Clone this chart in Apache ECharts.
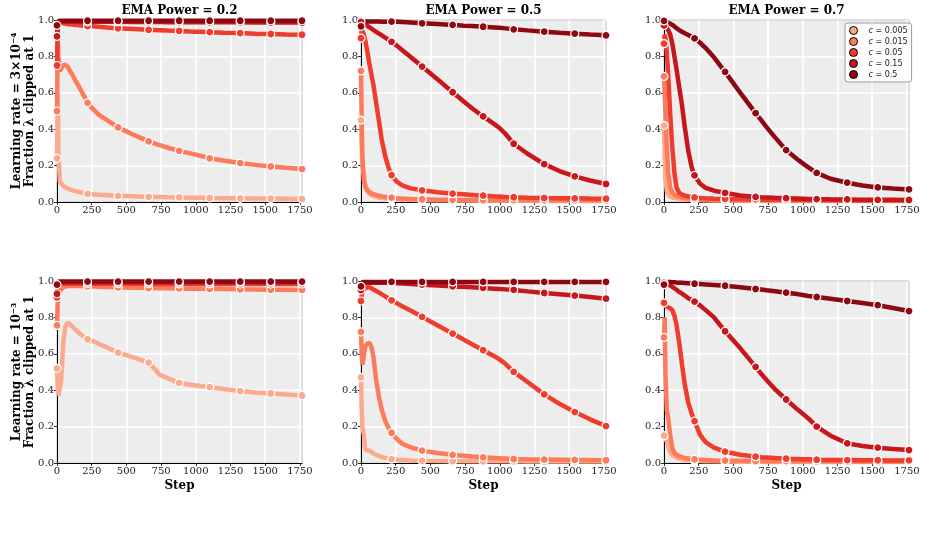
<!DOCTYPE html>
<html>
<head>
<meta charset="utf-8">
<script src="https://cdn.jsdelivr.net/npm/echarts@6/dist/echarts.min.js"></script>
<style>
  html, body { margin: 0; padding: 0; background: #fff; }
  #chart { width: 937px; height: 556px; }
</style>
</head>
<body>
<div id="chart"></div>
<script>
// x positions shared by every curve (training step)
const steps = [0, 5, 10, 20, 30, 45, 60, 75, 90, 110, 130, 150, 175, 200, 220, 260, 300, 360, 440, 550,
  660, 700, 740, 800, 880, 960, 1000, 1040, 1100, 1200, 1320, 1430, 1540, 1650, 1765]
// steps where a marker is drawn
const markSteps = [0, 220, 440, 660, 880, 1100, 1320, 1540, 1765]

const cLabels = ['0.005', '0.015', '0.05', '0.15', '0.5']
const cColors = ['#fcaa8e', '#fb7b5b', '#ef3c2d', '#c8171c', '#8d0912']
const emaTitles = ['EMA Power = 0.2', 'EMA Power = 0.5', 'EMA Power = 0.7']
const lrLabels = ['Learning rate = 3×10⁻⁴', 'Learning rate = 10⁻³']
const yLabel2 = 'Fraction λ clipped at 1'
const xTicks = [0, 250, 500, 750, 1000, 1250, 1500, 1750]

// learning rate 3e-4, EMA power 0.2
const lo02_c0005 = [0.24, 0.6, 0.3, 0.11, 0.1, 0.09, 0.08, 0.075, 0.07, 0.065, 0.06, 0.056, 0.052, 0.048, 0.045, 0.042, 0.04, 0.037, 0.034, 0.031, 0.028, 0.027, 0.027, 0.026, 0.025, 0.024, 0.023, 0.023, 0.022, 0.021, 0.02, 0.019, 0.019, 0.018, 0.017]
const lo02_c0015 = [0.5, 0.88, 0.8, 0.72, 0.73, 0.75, 0.755, 0.745, 0.725, 0.7, 0.67, 0.645, 0.61, 0.575, 0.545, 0.51, 0.48, 0.45, 0.41, 0.37, 0.333, 0.322, 0.312, 0.298, 0.281, 0.267, 0.26, 0.253, 0.24, 0.228, 0.214, 0.204, 0.195, 0.188, 0.181]
const lo02_c005 = [0.75, 0.95, 0.975, 0.98, 0.982, 0.982, 0.98, 0.978, 0.976, 0.975, 0.973, 0.972, 0.97, 0.968, 0.967, 0.965, 0.963, 0.959, 0.954, 0.95, 0.946, 0.945, 0.944, 0.942, 0.94, 0.937, 0.936, 0.935, 0.933, 0.93, 0.928, 0.925, 0.923, 0.921, 0.919]
const lo02_c015 = [0.91, 0.97, 0.985, 0.99, 0.99, 0.99, 0.99, 0.99, 0.99, 0.99, 0.99, 0.99, 0.99, 0.99, 0.99, 0.99, 0.99, 0.99, 0.99, 0.989, 0.989, 0.989, 0.989, 0.988, 0.988, 0.988, 0.988, 0.988, 0.987, 0.987, 0.987, 0.986, 0.986, 0.986, 0.986]
const lo02_c05 = [0.97, 0.99, 0.995, 0.996, 0.996, 0.996, 0.996, 0.996, 0.996, 0.996, 0.996, 0.996, 0.996, 0.996, 0.996, 0.996, 0.996, 0.996, 0.996, 0.996, 0.996, 0.996, 0.996, 0.996, 0.996, 0.996, 0.996, 0.996, 0.996, 0.996, 0.996, 0.996, 0.996, 0.996, 0.996]

// learning rate 3e-4, EMA power 0.5
const lo05_c0005 = [0.45, 0.3, 0.2, 0.16, 0.1, 0.06, 0.045, 0.038, 0.033, 0.028, 0.025, 0.022, 0.02, 0.018, 0.017, 0.015, 0.013, 0.012, 0.01, 0.009, 0.009, 0.008, 0.008, 0.008, 0.008, 0.007, 0.007, 0.007, 0.007, 0.007, 0.006, 0.006, 0.006, 0.006, 0.006]
const lo05_c0015 = [0.72, 0.45, 0.25, 0.12, 0.085, 0.065, 0.055, 0.048, 0.043, 0.038, 0.034, 0.031, 0.028, 0.025, 0.024, 0.021, 0.019, 0.017, 0.015, 0.013, 0.012, 0.012, 0.011, 0.011, 0.011, 0.01, 0.01, 0.01, 0.01, 0.01, 0.009, 0.009, 0.009, 0.009, 0.009]
const lo05_c005 = [0.9, 0.95, 0.94, 0.92, 0.89, 0.83, 0.76, 0.7, 0.64, 0.54, 0.44, 0.34, 0.25, 0.185, 0.148, 0.11, 0.09, 0.075, 0.064, 0.054, 0.046, 0.044, 0.042, 0.039, 0.035, 0.031, 0.03, 0.028, 0.026, 0.024, 0.022, 0.021, 0.02, 0.019, 0.018]
const lo05_c015 = [0.99, 0.988, 0.985, 0.98, 0.975, 0.968, 0.96, 0.953, 0.945, 0.935, 0.925, 0.915, 0.903, 0.891, 0.88, 0.858, 0.832, 0.795, 0.744, 0.675, 0.603, 0.578, 0.552, 0.515, 0.47, 0.428, 0.405, 0.375, 0.32, 0.265, 0.208, 0.17, 0.141, 0.118, 0.099]
const lo05_c05 = [0.965, 0.985, 0.99, 0.992, 0.992, 0.992, 0.992, 0.992, 0.992, 0.992, 0.992, 0.991, 0.991, 0.991, 0.991, 0.99, 0.989, 0.986, 0.982, 0.978, 0.973, 0.971, 0.969, 0.967, 0.963, 0.959, 0.957, 0.954, 0.949, 0.943, 0.936, 0.93, 0.925, 0.92, 0.916]

// learning rate 3e-4, EMA power 0.7
const lo07_c0005 = [0.42, 0.25, 0.13, 0.06, 0.04, 0.03, 0.025, 0.022, 0.02, 0.018, 0.016, 0.015, 0.013, 0.012, 0.011, 0.01, 0.009, 0.008, 0.008, 0.007, 0.007, 0.007, 0.006, 0.006, 0.006, 0.006, 0.006, 0.005, 0.005, 0.005, 0.005, 0.005, 0.005, 0.005, 0.005]
const lo07_c0015 = [0.69, 0.6, 0.5, 0.3, 0.16, 0.08, 0.05, 0.04, 0.033, 0.028, 0.024, 0.021, 0.019, 0.017, 0.016, 0.014, 0.013, 0.012, 0.011, 0.01, 0.009, 0.009, 0.009, 0.009, 0.008, 0.008, 0.008, 0.008, 0.008, 0.008, 0.007, 0.007, 0.007, 0.007, 0.007]
const lo07_c005 = [0.87, 0.92, 0.9, 0.82, 0.7, 0.48, 0.3, 0.16, 0.08, 0.05, 0.04, 0.035, 0.03, 0.027, 0.025, 0.022, 0.02, 0.018, 0.017, 0.015, 0.014, 0.014, 0.013, 0.013, 0.012, 0.012, 0.012, 0.011, 0.011, 0.011, 0.01, 0.01, 0.01, 0.01, 0.01]
const lo07_c015 = [0.97, 0.975, 0.97, 0.96, 0.95, 0.92, 0.87, 0.8, 0.73, 0.63, 0.53, 0.41, 0.28, 0.19, 0.146, 0.1, 0.078, 0.062, 0.05, 0.036, 0.028, 0.026, 0.025, 0.023, 0.021, 0.019, 0.018, 0.017, 0.016, 0.015, 0.014, 0.013, 0.012, 0.012, 0.011]
const lo07_c05 = [0.995, 0.995, 0.994, 0.99, 0.987, 0.98, 0.973, 0.965, 0.955, 0.945, 0.935, 0.927, 0.918, 0.908, 0.899, 0.875, 0.846, 0.795, 0.715, 0.6, 0.488, 0.45, 0.41, 0.355, 0.285, 0.235, 0.212, 0.19, 0.16, 0.128, 0.106, 0.091, 0.08, 0.074, 0.069]

// learning rate 1e-3, EMA power 0.2
const hi02_c0005 = [0.52, 0.42, 0.37, 0.365, 0.45, 0.66, 0.75, 0.77, 0.765, 0.75, 0.735, 0.72, 0.705, 0.69, 0.68, 0.67, 0.655, 0.635, 0.607, 0.58, 0.552, 0.52, 0.485, 0.465, 0.44, 0.43, 0.426, 0.422, 0.417, 0.407, 0.395, 0.388, 0.382, 0.376, 0.371]
const hi02_c0015 = [0.756, 0.88, 0.92, 0.945, 0.955, 0.965, 0.97, 0.972, 0.972, 0.972, 0.972, 0.972, 0.972, 0.971, 0.971, 0.97, 0.969, 0.967, 0.965, 0.963, 0.961, 0.961, 0.96, 0.96, 0.959, 0.958, 0.958, 0.958, 0.957, 0.956, 0.954, 0.953, 0.952, 0.952, 0.951]
const hi02_c005 = [0.91, 0.96, 0.975, 0.985, 0.985, 0.985, 0.985, 0.985, 0.985, 0.985, 0.985, 0.985, 0.985, 0.985, 0.985, 0.985, 0.985, 0.985, 0.985, 0.985, 0.985, 0.984, 0.984, 0.984, 0.984, 0.984, 0.984, 0.984, 0.984, 0.984, 0.983, 0.983, 0.983, 0.983, 0.983]
const hi02_c015 = [0.93, 0.98, 0.99, 0.993, 0.993, 0.993, 0.993, 0.993, 0.993, 0.993, 0.993, 0.993, 0.993, 0.993, 0.993, 0.993, 0.993, 0.993, 0.993, 0.993, 0.993, 0.993, 0.993, 0.993, 0.993, 0.993, 0.993, 0.993, 0.993, 0.993, 0.993, 0.993, 0.993, 0.993, 0.993]
const hi02_c05 = [0.98, 0.995, 0.997, 0.997, 0.997, 0.997, 0.997, 0.997, 0.997, 0.997, 0.997, 0.997, 0.997, 0.997, 0.997, 0.997, 0.997, 0.997, 0.997, 0.997, 0.997, 0.997, 0.997, 0.997, 0.997, 0.997, 0.997, 0.997, 0.997, 0.997, 0.997, 0.997, 0.997, 0.997, 0.997]

// learning rate 1e-3, EMA power 0.5
const hi05_c0005 = [0.47, 0.3, 0.2, 0.16, 0.075, 0.07, 0.068, 0.06, 0.052, 0.045, 0.038, 0.033, 0.028, 0.024, 0.021, 0.018, 0.016, 0.014, 0.012, 0.011, 0.01, 0.01, 0.01, 0.009, 0.009, 0.009, 0.009, 0.009, 0.009, 0.008, 0.008, 0.008, 0.008, 0.008, 0.008]
const hi05_c0015 = [0.72, 0.6, 0.54, 0.55, 0.64, 0.655, 0.66, 0.64, 0.58, 0.45, 0.36, 0.29, 0.23, 0.19, 0.165, 0.13, 0.105, 0.085, 0.068, 0.055, 0.045, 0.042, 0.04, 0.036, 0.031, 0.028, 0.026, 0.025, 0.022, 0.02, 0.019, 0.018, 0.017, 0.016, 0.015]
const hi05_c005 = [0.89, 0.92, 0.94, 0.955, 0.962, 0.966, 0.965, 0.96, 0.953, 0.945, 0.936, 0.927, 0.915, 0.904, 0.894, 0.877, 0.86, 0.836, 0.803, 0.757, 0.711, 0.695, 0.678, 0.653, 0.62, 0.587, 0.568, 0.545, 0.501, 0.445, 0.377, 0.325, 0.28, 0.24, 0.203]
const hi05_c015 = [0.95, 0.98, 0.985, 0.988, 0.99, 0.99, 0.99, 0.99, 0.99, 0.99, 0.99, 0.99, 0.99, 0.99, 0.99, 0.988, 0.986, 0.983, 0.98, 0.975, 0.971, 0.969, 0.968, 0.966, 0.962, 0.958, 0.956, 0.954, 0.951, 0.943, 0.934, 0.927, 0.92, 0.912, 0.903]
const hi05_c05 = [0.97, 0.99, 0.994, 0.995, 0.995, 0.995, 0.995, 0.995, 0.995, 0.995, 0.995, 0.995, 0.995, 0.995, 0.995, 0.995, 0.995, 0.995, 0.995, 0.995, 0.995, 0.995, 0.995, 0.995, 0.995, 0.995, 0.995, 0.995, 0.995, 0.995, 0.995, 0.995, 0.995, 0.995, 0.995]

// learning rate 1e-3, EMA power 0.7
const hi07_c0005 = [0.15, 0.14, 0.135, 0.12, 0.09, 0.06, 0.045, 0.035, 0.03, 0.025, 0.021, 0.018, 0.016, 0.014, 0.013, 0.011, 0.01, 0.009, 0.008, 0.007, 0.007, 0.007, 0.006, 0.006, 0.006, 0.006, 0.006, 0.006, 0.005, 0.005, 0.005, 0.005, 0.005, 0.005, 0.005]
const hi07_c0015 = [0.69, 0.8, 0.5, 0.29, 0.25, 0.15, 0.08, 0.055, 0.045, 0.038, 0.032, 0.028, 0.025, 0.022, 0.02, 0.018, 0.016, 0.014, 0.013, 0.012, 0.011, 0.011, 0.01, 0.01, 0.01, 0.009, 0.009, 0.009, 0.009, 0.009, 0.008, 0.008, 0.008, 0.008, 0.008]
const hi07_c005 = [0.88, 0.87, 0.865, 0.86, 0.855, 0.85, 0.84, 0.81, 0.76, 0.66, 0.54, 0.43, 0.33, 0.27, 0.23, 0.155, 0.115, 0.085, 0.062, 0.045, 0.035, 0.032, 0.03, 0.027, 0.024, 0.022, 0.021, 0.02, 0.018, 0.017, 0.016, 0.015, 0.015, 0.014, 0.014]
const hi07_c015 = [0.99, 0.99, 0.988, 0.985, 0.98, 0.975, 0.968, 0.96, 0.952, 0.94, 0.93, 0.92, 0.905, 0.895, 0.887, 0.865, 0.84, 0.8, 0.724, 0.63, 0.528, 0.49, 0.455, 0.405, 0.349, 0.295, 0.27, 0.245, 0.2, 0.15, 0.108, 0.093, 0.084, 0.077, 0.071]
const hi07_c05 = [0.98, 0.99, 0.993, 0.994, 0.994, 0.994, 0.993, 0.993, 0.992, 0.991, 0.99, 0.989, 0.988, 0.986, 0.985, 0.983, 0.981, 0.978, 0.974, 0.966, 0.956, 0.953, 0.949, 0.944, 0.936, 0.928, 0.923, 0.918, 0.912, 0.902, 0.89, 0.879, 0.867, 0.852, 0.835]

const panels = [
  [lo02_c0005, lo02_c0015, lo02_c005, lo02_c015, lo02_c05],
  [lo05_c0005, lo05_c0015, lo05_c005, lo05_c015, lo05_c05],
  [lo07_c0005, lo07_c0015, lo07_c005, lo07_c015, lo07_c05],
  [hi02_c0005, hi02_c0015, hi02_c005, hi02_c015, hi02_c05],
  [hi05_c0005, hi05_c0015, hi05_c005, hi05_c015, hi05_c05],
  [hi07_c0005, hi07_c0015, hi07_c005, hi07_c015, hi07_c05],
]

const SERIF = '"DejaVu Serif", serif'
const gridLefts = [57, 361, 664]
const gridTops = [20, 281]
const W = 245, H = 182

const chart = echarts.init(document.getElementById('chart'), null, { renderer: 'canvas' })

const grid = [], xAxis = [], yAxis = [], series = []

panels.forEach((panel, p) => {
  const row = Math.floor(p / 3), col = p % 3
  grid.push({
    left: gridLefts[col], top: gridTops[row], width: W, height: H,
    show: true, backgroundColor: '#ededed', borderColor: '#000', borderWidth: 1,
  })
  xAxis.push({
    type: 'value', gridIndex: p, min: 0, max: steps[steps.length - 1], interval: 250,
    name: row === 1 ? 'Step' : '', nameLocation: 'middle', nameGap: 17,
    nameTextStyle: { fontFamily: SERIF, fontWeight: 'bold', fontSize: 12, color: '#000' },
    axisLine: { show: true, onZero: false, lineStyle: { color: '#000', width: 1 } },
    axisTick: { show: true, length: 3, lineStyle: { color: '#000', width: 0.8 } },
    axisLabel: {
      fontFamily: SERIF, fontSize: 10, color: '#222', margin: 3, showMaxLabel: false,
      formatter: v => (xTicks.includes(v) ? String(v) : ''),
    },
    splitLine: { show: true, lineStyle: { color: '#fff', width: 1.5 } },
  })
  yAxis.push({
    type: 'value', gridIndex: p, min: 0, max: 1, interval: 0.2,
    axisLine: { show: true, lineStyle: { color: '#000', width: 1 } },
    axisTick: { show: true, length: 3, lineStyle: { color: '#000', width: 0.8 } },
    axisLabel: { fontFamily: SERIF, fontSize: 10, color: '#222', margin: 3, formatter: v => v.toFixed(1) },
    splitLine: { show: true, lineStyle: { color: '#fff', width: 1.5 } },
  })
  panel.forEach((vals, k) => {
    series.push({
      name: cLabels[k],
      type: 'line',
      xAxisIndex: p,
      yAxisIndex: p,
      data: steps.map((s, i) => [s, vals[i]]),
      color: cColors[k],
      lineStyle: { color: cColors[k], width: 4.5 },
      symbol: v => (markSteps.includes(v[0]) ? 'circle' : 'none'),
      symbolSize: 8,
      showSymbol: true,
      showAllSymbol: true,
      itemStyle: { color: cColors[k], borderColor: '#fff', borderWidth: 1.2 },
      clip: true,
      animation: false,
      silent: true,
    })
  })
})

const textStyle = (text, font) => ({
  text, fill: '#000', font,
  align: 'center', verticalAlign: 'middle', textAlign: 'center', textVerticalAlign: 'middle',
})

// panel titles along the top row
const graphic = emaTitles.map((t, i) => ({
  type: 'text', x: gridLefts[i] + W / 2, y: 11,
  style: textStyle(t, 'bold 12px "DejaVu Serif"'),
}))
// two-line y labels on the left column
gridTops.forEach((top, r) => {
  const cy = top + H / 2
  graphic.push({ type: 'text', x: 17, y: cy, rotation: Math.PI / 2, style: textStyle(lrLabels[r], 'bold 12px "DejaVu Serif"') })
  graphic.push({ type: 'text', x: 30, y: cy, rotation: Math.PI / 2, style: textStyle(yLabel2, 'bold 12px "DejaVu Serif"') })
})

chart.setOption({
  animation: false,
  backgroundColor: '#fff',
  grid, xAxis, yAxis, series, graphic,
  legend: {
    data: cLabels,
    orient: 'vertical',
    left: 845, top: 23,
    padding: [3, 4, 3, 4],
    itemWidth: 20, itemHeight: 8, itemGap: 2,
    icon: 'circle',
    backgroundColor: 'rgba(255,255,255,0.85)',
    borderColor: '#999', borderWidth: 1, borderRadius: 3,
    itemStyle: { borderColor: '#000', borderWidth: 1 },
    lineStyle: { width: 3 },
    formatter: name => '{i|c} = ' + name,
    textStyle: {
      fontFamily: '"DejaVu Sans", sans-serif', fontSize: 8, color: '#222',
      rich: { i: { fontStyle: 'italic', fontFamily: '"DejaVu Sans", sans-serif', fontSize: 8, color: '#222' } },
    },
  },
})
</script>
</body>
</html>
